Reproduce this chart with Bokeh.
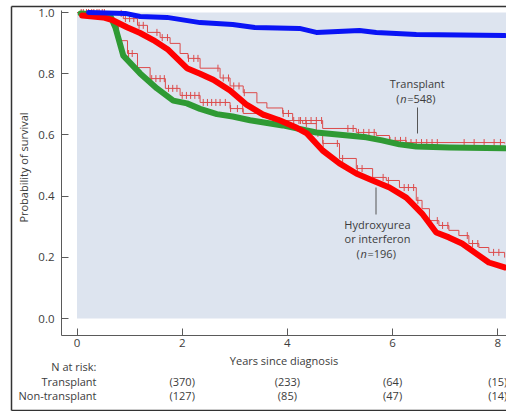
import numpy as np
from bokeh.plotting import figure
from bokeh.models import Label, Range1d, FixedTicker, PrintfTickFormatter
from bokeh.embed import file_html
from bokeh.resources import INLINE

# ---------------- data ----------------
x_ticks = [0, 2, 4, 6, 8]
y_ticks = [0.0, 0.2, 0.4, 0.6, 0.8, 1.0]

blue_t = [0.22, 0.92, 1.20, 1.71, 2.34, 2.96, 3.38, 4.23, 4.55, 5.37, 5.69, 6.45, 8.13]
blue_s = [1.0, 0.997, 0.987, 0.984, 0.967, 0.961, 0.951, 0.948, 0.935, 0.941, 0.935, 0.928, 0.925]

green_t = [0.07, 0.54, 0.63, 0.73, 0.88, 1.20, 1.52, 1.83, 2.09, 2.34, 2.66, 2.96, 3.29, 3.91,
           4.55, 5.50, 5.80, 6.13, 6.45, 7.08, 8.13]
green_s = [0.997, 0.993, 0.990, 0.951, 0.859, 0.801, 0.752, 0.712, 0.703, 0.685, 0.668, 0.660,
           0.648, 0.631, 0.608, 0.592, 0.582, 0.569, 0.562, 0.559, 0.556]

red_t = [0.10, 0.50, 0.69, 0.96, 1.20, 1.45, 1.72, 1.90, 2.09, 2.34, 2.59, 2.91, 3.23, 3.53, 3.85,
         4.17, 4.37, 4.67, 4.99, 5.31, 5.62, 5.94, 6.26, 6.37, 6.56, 6.83, 7.07, 7.32, 7.59, 7.83, 8.13]
red_s = [0.990, 0.984, 0.974, 0.951, 0.933, 0.910, 0.880, 0.850, 0.818, 0.800, 0.780, 0.745, 0.698,
         0.667, 0.648, 0.624, 0.605, 0.549, 0.507, 0.474, 0.451, 0.428, 0.395, 0.376, 0.343, 0.281,
         0.265, 0.245, 0.212, 0.183, 0.167]

# Kaplan-Meier step curves (thin red) with censor marks
km_tx_t = [0.0, 0.54, 0.67, 0.79, 0.96, 1.15, 1.39, 1.68, 1.96, 2.34, 2.91, 3.16, 3.53, 3.85, 4.67,
           5.31, 5.69, 5.94, 6.26, 8.13]
km_tx_s = [1.0, 1.0, 0.974, 0.908, 0.866, 0.820, 0.784, 0.752, 0.729, 0.706, 0.686, 0.670, 0.657,
           0.647, 0.621, 0.608, 0.598, 0.582, 0.575, 0.572]
km_tx_cens = [0.08, 0.18, 0.28, 0.38, 0.48, 0.98, 1.05, 1.42, 1.50, 1.58, 1.66, 1.74, 1.82, 1.90,
              2.00, 2.08, 2.16, 2.24, 2.32, 2.40, 2.48, 2.56, 2.64, 2.72, 2.82, 2.92, 3.05, 3.15,
              4.25, 4.35, 4.45, 4.55, 4.65, 5.15, 5.25, 5.35, 5.45, 5.55, 5.65, 5.95, 6.05, 6.15,
              6.25, 6.35, 6.45, 6.55, 6.65, 6.75, 6.85, 7.36, 7.55, 7.74, 7.93, 8.05]

km_nt_t = [0.0, 0.58, 0.88, 1.15, 1.34, 1.58, 1.77, 1.96, 2.11, 2.34, 2.72, 2.91, 3.16, 3.42, 3.61,
           3.91, 4.10, 4.29, 4.55, 4.67, 4.99, 5.31, 5.62, 5.88, 6.13, 6.45, 6.56, 6.70, 6.88,
           7.07, 7.26, 7.45, 7.64, 7.83, 8.13]
km_nt_s = [1.0, 0.997, 0.980, 0.958, 0.935, 0.918, 0.899, 0.866, 0.850, 0.818, 0.786, 0.760, 0.738,
           0.705, 0.688, 0.670, 0.647, 0.637, 0.605, 0.572, 0.523, 0.490, 0.461, 0.451, 0.428,
           0.386, 0.359, 0.320, 0.304, 0.288, 0.271, 0.245, 0.232, 0.216, 0.199]
km_nt_cens = [0.12, 0.22, 0.32, 0.42, 0.52, 0.84, 0.92, 1.00, 1.08, 1.18, 1.26, 1.52, 1.62, 1.72,
              2.12, 2.22, 2.30, 2.68, 2.78, 2.88, 2.98, 3.08, 3.18, 3.92, 4.02, 4.12, 4.22, 4.36,
              4.58, 4.68, 4.95, 5.05, 5.33, 5.42, 5.82, 5.92, 6.22, 6.30, 6.40, 6.48, 6.85, 6.95,
              7.05, 7.42, 7.52, 7.62, 7.92, 8.02]

risk_times = [2, 4, 6, 8]
risk_transplant = [370, 233, 64, 15]
risk_nontransplant = [127, 85, 47, 14]

# ---------------- styling ----------------
FONT = "Open Sans"
FS = "11px"
TXT = "#3c3c3c"
AX = "#5a5a5a"

W, H = 506, 411
X0, XS = 76.5, 52.6      # pixel of t=0, pixels per year
Y0, YS = 318.0, 306.0    # pixel of S=0, pixels per unit survival

def tx(px):
    return (px - X0) / XS

def sy(py):
    return (Y0 - py) / YS

p = figure(width=W, height=H, x_range=Range1d(tx(0), tx(W)), y_range=Range1d(sy(H), sy(0)),
           output_backend="svg", toolbar_location=None,
           min_border_left=0, min_border_right=0, min_border_top=0, min_border_bottom=0)
p.outline_line_color = None
p.xgrid.visible = False
p.ygrid.visible = False
p.background_fill_color = "white"
p.border_fill_color = "white"

for ax in (p.xaxis[0], p.yaxis[0]):
    ax.axis_line_color = AX
    ax.major_tick_line_color = AX
    ax.minor_tick_line_color = None
    ax.major_tick_in = 7
    ax.major_tick_out = 0
    ax.major_label_text_font = FONT
    ax.major_label_text_font_size = "11.5px"
    ax.major_label_text_color = TXT
p.xaxis.ticker = FixedTicker(ticks=x_ticks)
p.yaxis.ticker = FixedTicker(ticks=y_ticks)
p.yaxis.formatter = PrintfTickFormatter(format="%.1f")
p.yaxis.major_label_standoff = 7
p.xaxis.major_label_standoff = 3
p.yaxis.fixed_location = tx(61)
p.xaxis.fixed_location = sy(335)
p.yaxis.bounds = (sy(335), sy(10))
p.xaxis.bounds = (tx(61), tx(W))

# plotting area background
p.quad(left=0, right=9, bottom=0, top=1.0, fill_color="#dde4ef", line_color=None, level="underlay")

# outer frame lines
p.segment(x0=[tx(11), tx(11), tx(11)], y0=[sy(6), sy(6), sy(410)],
          x1=[tx(W), tx(11), tx(W)], y1=[sy(6), sy(410), sy(410)],
          line_color="#333333", line_width=1.5)

# thin KM curves
thin = "#dc4b4b"
p.step(km_tx_t, km_tx_s, mode="after", line_color=thin, line_width=1)
p.step(km_nt_t, km_nt_s, mode="after", line_color=thin, line_width=1)

def step_at(ts, ss, c):
    idx = np.searchsorted(np.array(ts), np.array(c), side="right") - 1
    return np.array(ss)[np.clip(idx, 0, len(ss) - 1)]

p.scatter(km_tx_cens, step_at(km_tx_t, km_tx_s, km_tx_cens), marker="dash", angle=np.pi / 2,
          size=7, line_color=thin, line_width=1)
p.scatter(km_nt_cens, step_at(km_nt_t, km_nt_s, km_nt_cens), marker="dash", angle=np.pi / 2,
          size=7, line_color=thin, line_width=1)

# thick smoothed curves
p.line(green_t, green_s, line_color="#2f9a34", line_width=6, line_join="round", line_cap="round")
p.line(red_t, red_s, line_color="#ff0000", line_width=6, line_join="round", line_cap="round")
p.line(blue_t, blue_s, line_color="#0a14f5", line_width=5, line_join="round", line_cap="round")

# leader lines
p.segment(x0=[tx(417), tx(375.5)], y0=[sy(107), sy(187)], x1=[tx(417), tx(375.5)],
          y1=[sy(133), sy(214)], line_color="#555555", line_width=1)

def lab(x, y, text, align="center", style="normal", xoff=0, baseline="middle", angle=0):
    p.add_layout(Label(x=x, y=y, text=text, text_font=FONT, text_font_size=FS,
                       text_color=TXT, text_align=align, text_baseline=baseline,
                       text_font_style=style, x_offset=xoff, angle=angle))

# annotations in the plot
lab(tx(416.7), sy(83), "Transplant")
lab(tx(416.7), sy(98), "(", align="left", xoff=-21)
lab(tx(416.7), sy(98), "n", align="left", style="italic", xoff=-17)
lab(tx(416.7), sy(98), "=548)", align="left", xoff=-10)

lab(tx(377), sy(224), "Hydroxyurea")
lab(tx(377), sy(238), "or interferon")
lab(tx(377), sy(253), "(", align="left", xoff=-21)
lab(tx(377), sy(253), "n", align="left", style="italic", xoff=-17)
lab(tx(377), sy(253), "=196)", align="left", xoff=-10)

# axis titles
lab(tx(283.5), sy(360), "Years since diagnosis")
lab(tx(23), sy(167), "Probability of survival", angle=np.pi / 2)

# numbers at risk
lab(tx(96), sy(366), "N at risk:", align="right")
lab(tx(96), sy(381), "Transplant", align="right")
lab(tx(96), sy(395), "Non-transplant", align="right")
for t, a, b in zip(risk_times, risk_transplant, risk_nontransplant):
    lab(t, sy(381), f"({a})")
    lab(t, sy(395), f"({b})")

open("out.html", "w").write(file_html(p, INLINE))
